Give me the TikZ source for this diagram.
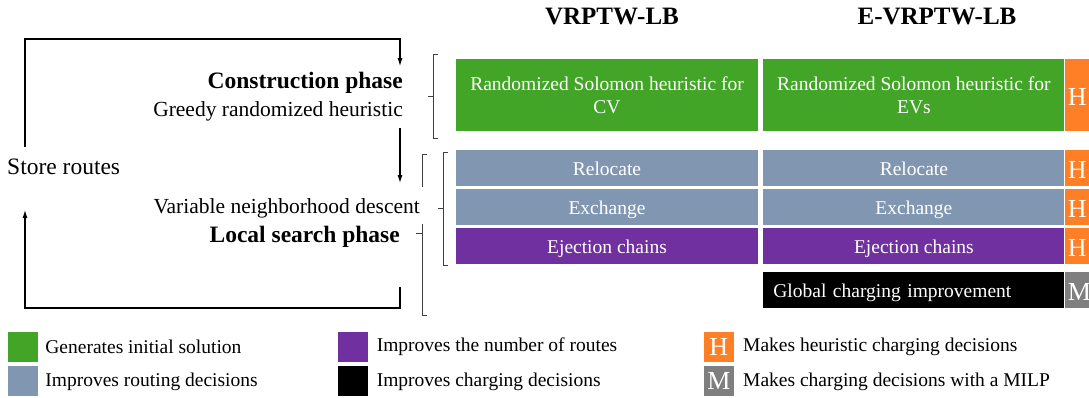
\documentclass[tikz,border=0pt]{standalone}
\usepackage{fontspec}
\setmainfont{Liberation Serif}
\usetikzlibrary{positioning, arrows.meta}
\definecolor{solgreen}{HTML}{43A527}
\definecolor{routeblue}{HTML}{8197B1}
\definecolor{ejpurple}{HTML}{7030A0}
\definecolor{hcol}{HTML}{FE7F26}
\definecolor{mgray}{HTML}{7F7F7F}
\newcommand\boxfont{\fontsize{19.5}{23}\selectfont}
\newcommand\sidefont{\fontsize{21.5}{25}\selectfont}
\newcommand\phasefont{\fontsize{23.5}{27}\selectfont\bfseries}
\newcommand\headfont{\fontsize{25}{29}\selectfont\bfseries}
\newcommand\hfont{\fontsize{26}{30}\selectfont}
\begin{document}
\begin{tikzpicture}[x=1pt, y=-1pt,
     node distance = 2.5pt and 5pt,
          blk/.style = {rectangle, minimum width=302pt, inner sep=0pt, text=white, font=\boxfont},
       rowblk/.style = {blk, minimum height=36pt, text height=19pt, text depth=4pt},
       hstrip/.style = {rectangle, fill=hcol, text=white, font=\hfont, text width=19pt,
                        text height=21pt, text depth=0pt,
                        inner xsep=3pt, inner ysep=0pt, align=left, minimum height=36pt},
        legsq/.style = {rectangle, minimum size=30pt, inner sep=0pt, text=white, font=\hfont},
       legtxt/.style = {inner sep=0pt, font=\boxfont},
         head/.style = {font=\headfont, inner sep=0pt},
         loop/.style = {line width=1.1pt, -{Latex[length=8pt,width=5pt]}},
          brk/.style = {line width=0.9pt, black!75}
                        ]
\useasboundingbox (0,0) rectangle (1089,398);
\node (hvrp)  [head] at (612,17) {VRPTW-LB};
\node (hevrp) [head] at (937,17) {E-VRPTW-LB};
\node (lsol) [blk, minimum height=72pt, fill=solgreen, align=center] at (607,95.5) {Randomized Solomon heuristic for\\CV};
\node (rsol) [blk, minimum height=72pt, minimum width=301pt, fill=solgreen, align=center, right=5pt of lsol] {Randomized Solomon heuristic for\\EVs};
\node (hsol) [hstrip, minimum height=72pt, right=0pt of rsol] {H};
\node (lrel) [rowblk, fill=routeblue] at (607,168) {Relocate};
\node (lexc) [rowblk, fill=routeblue, below=of lrel] {Exchange};
\node (lejc) [rowblk, fill=ejpurple, below=of lexc] {Ejection chains};
\node (rrel) [rowblk, minimum width=301pt, fill=routeblue, right=of lrel] {Relocate};
\node (rexc) [rowblk, minimum width=301pt, fill=routeblue, right=of lexc] {Exchange};
\node (rejc) [rowblk, minimum width=301pt, fill=ejpurple, right=of lejc] {Ejection chains};
\node (hrel) [hstrip, right=0pt of rrel] {H};
\node (hexc) [hstrip, right=0pt of rexc] {H};
\node (hejc) [hstrip, right=0pt of rejc] {H};
\node (glob) [rowblk, minimum width=301pt, fill=black, text width=281pt, inner xsep=10pt, align=left, below=8pt of rejc] {Global charging improvement};
\node (mglob) [hstrip, fill=mgray, right=0pt of glob] {M};
\node (cons)   [font=\phasefont, anchor=east, inner sep=2pt] at (405,83) {Construction phase};
\node (greedy) [font=\sidefont, anchor=east, inner sep=2pt] at (405,111) {Greedy randomized heuristic};
\node (vnd)    [font=\sidefont, anchor=east, inner sep=2pt] at (422,208) {Variable neighborhood descent};
\node (ls)     [font=\phasefont, anchor=east, inner sep=2pt] at (402,237) {Local search phase};
\node (store)  [font=\fontsize{23.5}{27}\selectfont, anchor=west, inner sep=0pt] at (7,167) {Store routes};
\coordinate (tl) at (25,39);
\coordinate (tr) at (400,39);
\coordinate (sa) at (25,147);
\coordinate (sb) at (25,210);
\coordinate (b1) at (400,287);
\coordinate (bb) at (400,308);
\draw[loop] (sa) |- (tr) -- (tr |- cons.north) [shorten >=4pt];
\draw[loop, shorten <=5pt, shorten >=13pt] (greedy.south -| tr) -- (tr |- vnd.north);
\draw[loop] (b1) -- (bb) -| (sb);
\draw[brk] (438,54) -- (433,54) -- (433,138) -- (438,138);
\draw[brk] (433,96) -- (428,96);
\draw[brk] (427,154) -- (422,154) -- (422,187);
\draw[brk] (422,224) -- (422,315) -- (427,315);
\draw[brk] (422,233) -- (416,233);
\draw[brk] (448,152) -- (443,152) -- (443,265) -- (448,265);
\draw[brk] (443,208) -- (438,208);
\node (lgreen) [legsq, fill=solgreen] at (23,347) {};
\node (lblue)  [legsq, fill=routeblue, below=4pt of lgreen] {};
\node (lpurp)  [legsq, fill=ejpurple, right=300pt of lgreen] {};
\node (lblack) [legsq, fill=black, below=4pt of lpurp] {};
\node (lhh)    [legsq, fill=hcol, right=335pt of lpurp] {H};
\node (lmm)    [legsq, fill=mgray, below=4pt of lhh] {M};
\node (tgreen) [legtxt, right=7pt of lgreen] {Generates initial solution};
\node (tblue)  [legtxt, right=7pt of lblue] {Improves routing decisions};
\node (tpurp)  [legtxt, right=8pt of lpurp] {Improves the number of routes};
\node (tblack) [legtxt, right=8pt of lblack] {Improves charging decisions};
\node (thh)    [legtxt, right=9pt of lhh] {Makes heuristic charging decisions};
\node (tmm)    [legtxt, right=9pt of lmm] {Makes charging decisions with a MILP};
\end{tikzpicture}
\end{document}
